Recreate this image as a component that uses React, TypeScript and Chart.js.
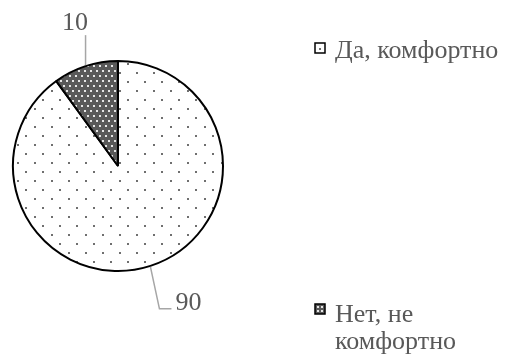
import React, { useEffect, useRef } from "react";
import { Chart, registerables } from "chart.js";

Chart.register(...registerables);

const categories: string[] = ["Да, комфортно", "Нет, не комфортно"];
const values: number[] = [90, 10];
const legendLines: string[][] = [["Да, комфортно"], ["Нет, не", "комфортно"]];

const FONT = "'Liberation Serif', 'Times New Roman', serif";
const TEXT_COLOR = "#595959";

function makePattern(kind: number): CanvasPattern | string {
  const c = document.createElement("canvas");
  const ctx = c.getContext("2d");
  if (!ctx) return kind === 0 ? "#fff" : "#595959";
  if (kind === 0) {
    c.width = 17;
    c.height = 18;
    ctx.fillStyle = "#ffffff";
    ctx.fillRect(0, 0, 17, 18);
    ctx.fillStyle = "#6f6f6f";
    ctx.fillRect(0, 0, 2, 2);
    ctx.fillRect(8, 9, 2, 2);
  } else {
    c.width = 6;
    c.height = 10;
    ctx.fillStyle = "#595959";
    ctx.fillRect(0, 0, 6, 10);
    ctx.fillStyle = "#e6e6e6";
    ctx.fillRect(0, 0, 2, 2);
    ctx.fillRect(3, 5, 2, 2);
  }
  const p = ctx.createPattern(c, "repeat");
  return p || "#fff";
}

const overlayPlugin = {
  id: "overlay",
  afterDraw(chart: any) {
    const ctx: CanvasRenderingContext2D = chart.ctx;
    const meta = chart.getDatasetMeta(0);
    const ds = chart.data.datasets[0];
    ctx.save();
    ctx.font = `26px ${FONT}`;
    ctx.strokeStyle = "#a6a6a6";
    ctx.lineWidth = 1.5;
    ctx.textBaseline = "alphabetic";
    meta.data.forEach((arc: any, i: number) => {
      const mid = (arc.startAngle + arc.endAngle) / 2;
      const ax = arc.x + Math.cos(mid) * arc.outerRadius;
      const ay = arc.y + Math.sin(mid) * arc.outerRadius;
      const v = String(ds.data[i]);
      ctx.beginPath();
      ctx.fillStyle = TEXT_COLOR;
      if (ay < arc.y) {
        ctx.moveTo(ax, ay - 1);
        ctx.lineTo(ax, ay - 31);
        ctx.stroke();
        ctx.textAlign = "center";
        ctx.fillText(v, ax - 10.5, ay - 36);
      } else {
        ctx.moveTo(ax, ay + 1);
        ctx.lineTo(ax + 9, ay + 43);
        ctx.lineTo(ax + 21, ay + 43);
        ctx.stroke();
        ctx.textAlign = "left";
        ctx.fillText(v, ax + 25, ay + 44);
      }
    });
    // legend
    const legendBoxY = [43, 304];
    const legendBase = [58, 322];
    legendLines.forEach((lines, i) => {
      const bx = 315;
      const by = legendBoxY[i];
      ctx.fillStyle = i === 0 ? "#ffffff" : "#595959";
      ctx.fillRect(bx, by, 10, 10);
      if (i === 0) {
        ctx.fillStyle = "#6f6f6f";
        ctx.fillRect(bx + 4, by + 5, 2, 2);
      } else {
        ctx.fillStyle = "#e6e6e6";
        ctx.fillRect(bx + 2, by + 2, 2, 2);
        ctx.fillRect(bx + 6, by + 2, 2, 2);
        ctx.fillRect(bx + 2, by + 6, 2, 2);
        ctx.fillRect(bx + 6, by + 6, 2, 2);
      }
      ctx.strokeStyle = "#000";
      ctx.lineWidth = 1.5;
      ctx.strokeRect(bx, by, 10, 10);
      ctx.fillStyle = TEXT_COLOR;
      ctx.textAlign = "left";
      ctx.textBaseline = "alphabetic";
      ctx.font = `26px ${FONT}`;
      lines.forEach((t, j) => {
        ctx.fillText(t, 335, legendBase[i] + j * 27);
      });
    });
    ctx.restore();
  },
};

export default function App() {
  const ref = useRef<HTMLCanvasElement>(null);
  useEffect(() => {
    document.body.style.margin = "0";
    const canvas = ref.current;
    if (!canvas) return;
    const chart = new Chart(canvas, {
      type: "pie",
      data: {
        labels: categories,
        datasets: [
          {
            data: values,
            backgroundColor: [makePattern(0), makePattern(1)] as any,
            borderColor: "#000000",
            borderWidth: 2,
          },
        ],
      },
      options: {
        animation: false,
        responsive: false,
        maintainAspectRatio: false,
        layout: { padding: { left: 12, right: 286, top: 60, bottom: 84 } },
        plugins: {
          legend: { display: false },
          tooltip: { enabled: false },
        },
      },
      plugins: [overlayPlugin],
    });
    return () => chart.destroy();
  }, []);
  return <canvas ref={ref} width={510} height={356} style={{ display: "block" }} />;
}
